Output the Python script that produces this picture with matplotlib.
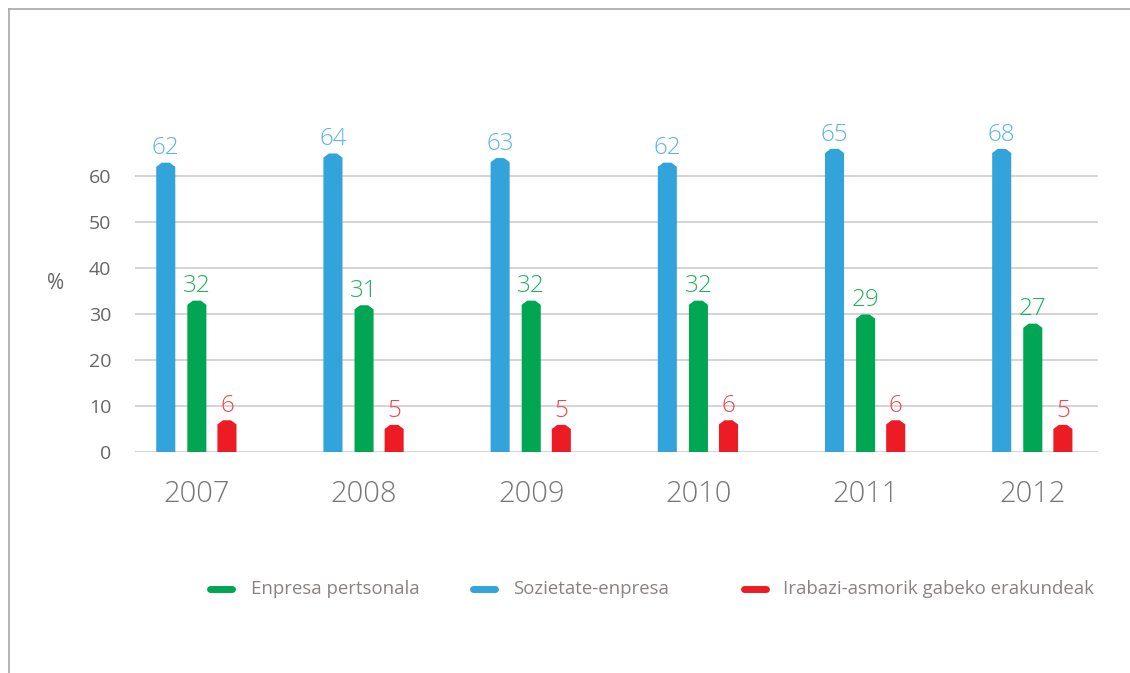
import numpy as np
import matplotlib.pyplot as plt
from matplotlib.patches import Polygon
from matplotlib.lines import Line2D

# datos
years = ['2007', '2008', '2009', '2010', '2011', '2012']
sozietate = [62, 64, 63, 62, 65, 68]
pertsonala = [32, 31, 32, 32, 29, 27]
irabazi = [6, 5, 5, 6, 6, 5]
series_names = ['Enpresa pertsonala', 'Sozietate-enpresa', 'Irabazi-asmorik gabeko erakundeak']
y_ticks = [0, 10, 20, 30, 40, 50, 60]

blue = '#33a3dc'
green = '#00a651'
red = '#ed1c24'
blue_lbl = '#5ab4e6'
green_lbl = '#22b05f'
red_lbl = '#f0474c'

plt.rcParams['font.family'] = ['Open Sans', 'DejaVu Sans']

fig = plt.figure(figsize=(11.3, 6.73), dpi=100)
ax = fig.add_axes([135 / 1130, (673 - 452) / 673, 963 / 1130, 322 / 673])

y_cap = 65  # el eje se corta aqui
bar_w = 0.114
tip = 0.9
x = np.arange(len(years))


def house_bar(xc, val, color):
    h = min(val, y_cap)
    hw = bar_w / 2
    flat = bar_w * 0.21
    pts = [(xc - hw, 0), (xc - hw, h), (xc - flat, h + tip), (xc + flat, h + tip),
           (xc + hw, h), (xc + hw, 0)]
    ax.add_patch(Polygon(pts, closed=True, facecolor=color, edgecolor='none', zorder=3))
    return h + tip


groups = [(sozietate, -0.186, blue, blue_lbl),
          (pertsonala, 0.0, green, green_lbl),
          (irabazi, 0.18, red, red_lbl)]

for vals, off, col, lcol in groups:
    for i, v in enumerate(vals):
        top = house_bar(x[i] + off, v, col)
        ax.annotate(str(v), (x[i] + off, top), xytext=(0, 6), textcoords='offset points',
                    ha='center', va='baseline', fontsize=17.5, color=lcol, fontweight='light')

ax.set_xlim(-0.37, 5.39)
ax.set_ylim(0, 70)
ax.set_yticks(y_ticks)
ax.set_yticklabels([str(t) for t in y_ticks], fontsize=14, color='#666666')
ax.set_xticks(x)
ax.set_xticklabels(years, fontsize=21, color='#777777', fontweight='light')
ax.tick_params(axis='y', length=0, pad=17)
ax.tick_params(axis='x', length=0, pad=20)
for t in y_ticks:
    ax.axhline(t, color='#d4d4d4', linewidth=1.4, zorder=1)
for s in ax.spines.values():
    s.set_visible(False)

fig.text(56 / 1130, 1 - 283 / 673, '%', fontsize=15, color='#666666', ha='center', va='center')

# leyenda
leg_y = 1 - 589 / 673
leg_items = [(207, 251, green), (470, 513, blue), (741, 783, red)]
for (mx, tx, col), name in zip(leg_items, series_names):
    fig.add_artist(Line2D([(mx + 3) / 1130, (mx + 25) / 1130], [leg_y, leg_y], color=col,
                          linewidth=5, solid_capstyle='round'))
    fig.text(tx / 1130, leg_y, name, fontsize=13.4, color='#8a8280', ha='left', va='center')

# marco
fig.add_artist(Line2D([9 / 1130, 1], [1 - 9 / 673, 1 - 9 / 673], color='#a8a8a8', linewidth=1.2))
fig.add_artist(Line2D([9 / 1130, 9 / 1130], [0, 1 - 9 / 673], color='#a8a8a8', linewidth=1.2))

fig.savefig('out.png', dpi=100)
